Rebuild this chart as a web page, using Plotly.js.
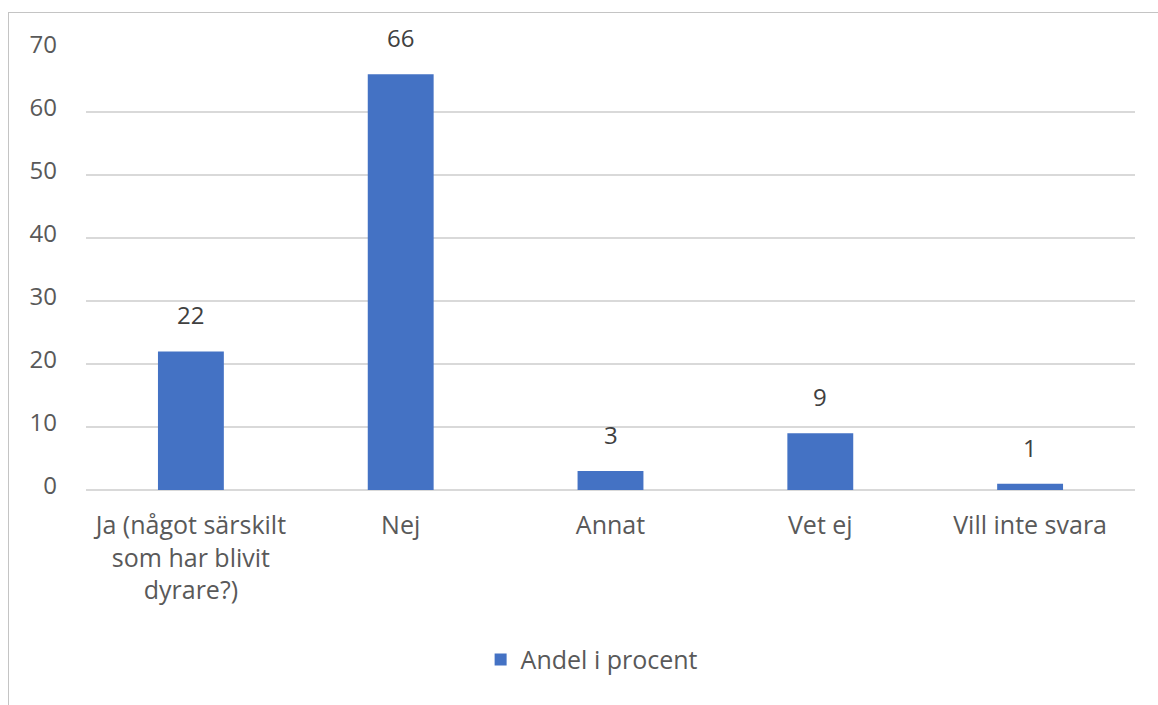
<!DOCTYPE html>
<html>
<head>
<meta charset="utf-8">
<script src="https://cdn.plot.ly/plotly-3.0.1.min.js"></script>
<style>
  html, body { margin: 0; padding: 0; background: #fff; }
  #wrap { position: relative; width: 1158px; height: 705px; overflow: hidden; }
  #frame { position: absolute; left: 8px; top: 12px; width: 1200px; height: 800px;
           border-left: 1.5px solid #c4c4c4; border-top: 1.5px solid #c4c4c4; pointer-events: none; }
  #chart { position: absolute; left: 0; top: 0; width: 1158px; height: 705px; }
</style>
</head>
<body>
<div id="wrap">
  <div id="chart"></div>
  <div id="frame"></div>
</div>
<script>
const categories = ["Ja (något särskilt<br>som har blivit<br>dyrare?)", "Nej", "Annat", "Vet ej", "Vill inte svara"];
const values = [22, 66, 3, 9, 1];
const seriesName = "Andel i procent";
const yTicks = [0, 10, 20, 30, 40, 50, 60, 70];

const barColor = "#4472c4";
const fontFamily = "'Open Sans', 'Noto Sans', sans-serif";
const textSize = 25;
const numSize = 24;

const trace = {
  type: "bar",
  x: categories,
  y: values,
  name: seriesName,
  marker: { color: barColor },
  hoverinfo: "none"
};

const annotations = categories.map((c, i) => ({
  x: c, y: values[i], xref: "x", yref: "y",
  text: String(values[i]),
  showarrow: false,
  yanchor: "bottom",
  yshift: 18,
  font: { family: fontFamily, size: numSize, color: "#404040" }
}));

const layout = {
  width: 1158,
  height: 705,
  margin: { l: 86, r: 23, t: 49, b: 215 },
  paper_bgcolor: "#ffffff",
  plot_bgcolor: "#ffffff",
  bargap: 0.686,
  showlegend: true,
  legend: {
    orientation: "h",
    x: 0.482, xanchor: "center",
    y: -0.385, yanchor: "middle",
    font: { family: fontFamily, size: textSize, color: "#595959" },
    itemwidth: 30
  },
  xaxis: {
    type: "category",
    showgrid: false,
    showline: false,
    zeroline: false,
    ticks: "",
    ticklabelstandoff: 18,
    tickfont: { family: fontFamily, size: textSize, color: "#595959" }
  },
  yaxis: {
    range: [0, 70],
    tickvals: yTicks,
    ticktext: yTicks.map(String),
    showgrid: true,
    gridcolor: "#d9d9d9",
    gridwidth: 1.5,
    zeroline: true,
    zerolinecolor: "#d9d9d9",
    zerolinewidth: 1.5,
    showline: false,
    ticks: "",
    ticklabelstandoff: 28,
    ticklabelshift: -4,
    tickfont: { family: fontFamily, size: numSize, color: "#595959" }
  },
  annotations: annotations
};

Plotly.newPlot("chart", [trace], layout, { displayModeBar: false, staticPlot: true });
</script>
</body>
</html>
